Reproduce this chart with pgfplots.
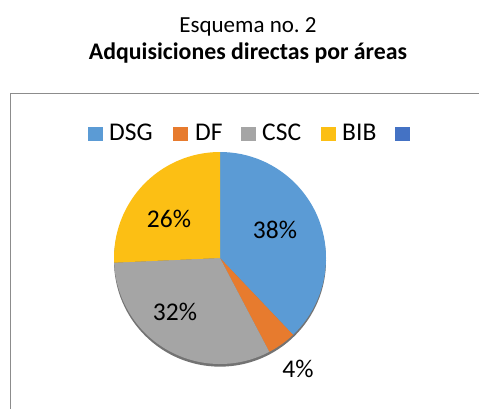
\documentclass[border=0pt]{standalone}
\usepackage{pgfplots}
\pgfplotsset{compat=1.18}
\usepackage{fontspec}
\setmainfont{Carlito}
\frenchspacing

\definecolor{dsg}{HTML}{5B9BD5}
\definecolor{df}{HTML}{E77B2E}
\definecolor{csc}{HTML}{A5A5A5}
\definecolor{bib}{HTML}{FCBF14}
\definecolor{extra}{HTML}{4472C4}
\definecolor{frame}{HTML}{8C8C8C}

% slice: #1 share before it, #2 share, #3 colour (shares in percent, clockwise from 12 o'clock)
\newcommand\slice[3]{%
  \fill[#3] (axis cs:0,0) -- (axis cs:{cos(90-3.6*(#1))},{sin(90-3.6*(#1))})
    arc[start angle={90-3.6*(#1)}, end angle={90-3.6*(#1+#2)}, radius=106pt] -- cycle;}
% legend key at pixel x, top y=127
\newcommand\key[2]{%
  \fill[#2] (axis cs:{(#1-220)/106},{(258-141)/106}) rectangle (axis cs:{(#1+14.5-220)/106},{(258-127)/106});}

\begin{document}
\begin{tikzpicture}
\begin{axis}[
    at={(0,0)}, anchor=south west,
    x=106pt, y=106pt,
    xmin=-2.0755, xmax=2.4434,
    ymin=-1.4151, ymax=2.4340,
    hide axis,
    font=\fontsize{25.5}{30}\selectfont,
]
% frame of the chart area
\draw[frame, line width=0.9pt] (axis cs:-1.976,-1.6) -- (axis cs:-1.976,1.552) -- (axis cs:2.6,1.552);

% titles
\node[anchor=base, font=\fontsize{23}{28}\selectfont] at (axis cs:0.264,2.132) {Esquema no. 2};
\node[anchor=base, font=\fontsize{23.8}{28}\selectfont\bfseries] at (axis cs:0.264,1.868) {Adquisiciones directas por áreas};

% legend
\key{88}{dsg}   \node[anchor=base west, inner sep=0pt] at (axis cs:{(109-220)/106},{(258-141)/106}) {DSG};
\key{173}{df}   \node[anchor=base west, inner sep=0pt] at (axis cs:{(195-220)/106},{(258-141)/106}) {DF};
\key{241}{csc}  \node[anchor=base west, inner sep=0pt] at (axis cs:{(262-220)/106},{(258-141)/106}) {CSC};
\key{321}{bib}  \node[anchor=base west, inner sep=0pt] at (axis cs:{(342-220)/106},{(258-141)/106}) {BIB};
\key{395}{extra}

% shadow below the pie
\fill[black!55] (axis cs:0,-0.025) circle[radius=106pt];

% pie: DSG 37.9, DF 4.4, CSC 32.0, BIB 25.7
\slice{0}{37.9}{dsg}
\slice{37.9}{4.4}{df}
\slice{42.3}{32.0}{csc}
\slice{74.3}{25.7}{bib}

% data labels
\node[anchor=base] at (axis cs:{(275-220)/106},{(258-238)/106}) {38\%};
\node[anchor=base] at (axis cs:{(298-220)/106},{(258-377)/106}) {4\%};
\node[anchor=base] at (axis cs:{(175-220)/106},{(258-320)/106}) {32\%};
\node[anchor=base] at (axis cs:{(169-220)/106},{(258-227)/106}) {26\%};
\end{axis}
\pgfresetboundingbox
\path (0,0) rectangle (479pt,408pt);
\end{tikzpicture}
\end{document}
